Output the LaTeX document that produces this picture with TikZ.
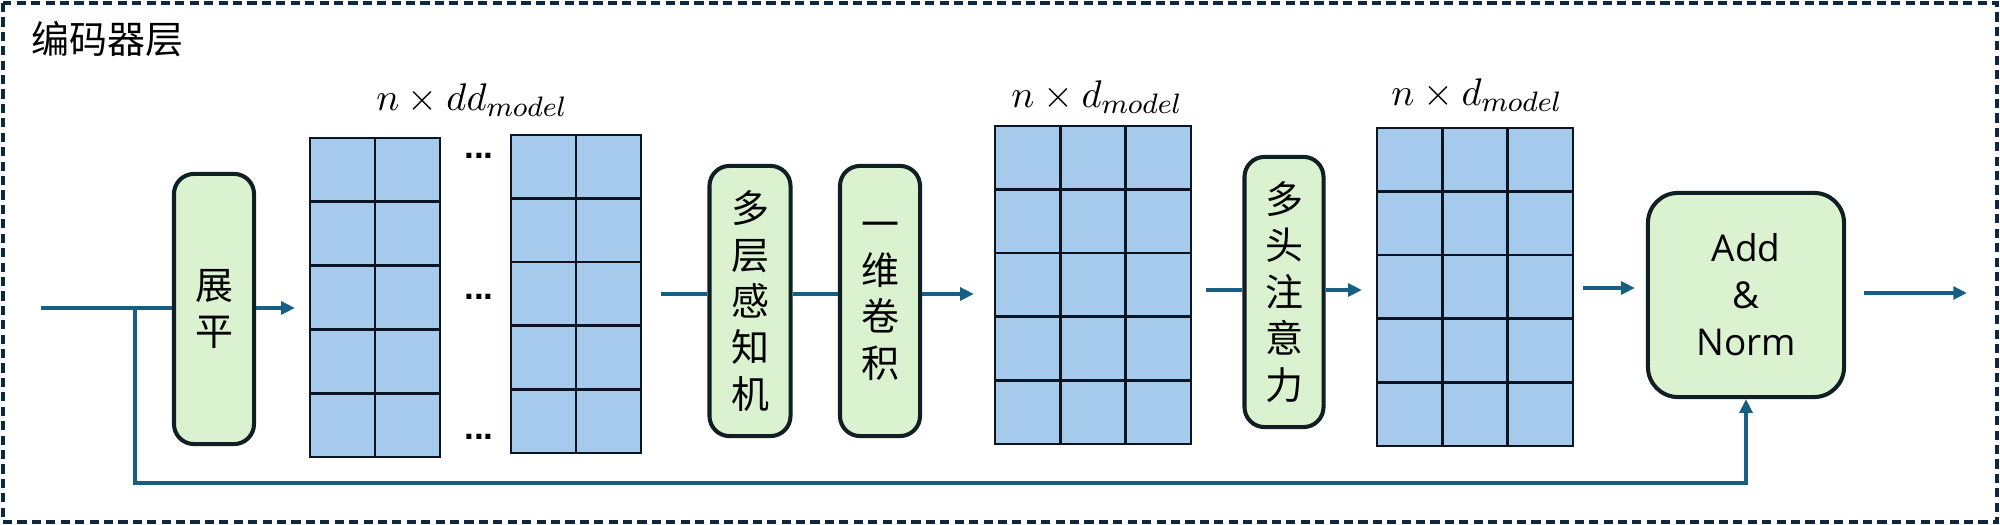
\documentclass[tikz,border=0pt]{standalone}
\usepackage{fontspec}
\newfontfamily\cjk{Noto Sans CJK SC}
\newfontfamily\sansf{Open Sans}
\newfontfamily\dotf{Liberation Sans}
\usetikzlibrary{arrows.meta,calc}
\definecolor{greenfill}{HTML}{DAF2D0}
\definecolor{darkline}{HTML}{0E2841}
\definecolor{boxline}{HTML}{0F1F24}
\definecolor{gridline}{HTML}{0B1420}
\definecolor{cellfill}{HTML}{A6CAEC}
\definecolor{arrowc}{HTML}{156082}
\newcommand\drawcells[3]{%
  \pgfmathtruncatemacro\mycolsm{#2-1}%
  \pgfmathtruncatemacro\myrowsm{#3-1}%
  \foreach \i in {1,...,\mycolsm}{%
    \draw[cellline] ($(#1.north west)!\i/#2!(#1.north east)$) -- ($(#1.south west)!\i/#2!(#1.south east)$);}%
  \foreach \j in {1,...,\myrowsm}{%
    \draw[cellline] ($(#1.north west)!\j/#3!(#1.south west)$) -- ($(#1.north east)!\j/#3!(#1.south east)$);}%
}
\begin{document}
\begin{tikzpicture}[x=0.01cm,y=-0.01cm,
  stepbox/.style={draw=boxline, line width=1.15pt, fill=greenfill, rounded corners=0.2cm,
    minimum width=0.8cm, minimum height=2.7cm, inner sep=0pt, align=center,
    font=\cjk\fontsize{10.8}{13.2}\selectfont},
  gridbox/.style={draw=gridline, line width=0.75pt, fill=cellfill, inner sep=0pt, outer sep=0pt},
  cellline/.style={draw=gridline, line width=0.75pt},
  conn/.style={draw=arrowc, line width=1pt},
  arr/.style={conn, -{Triangle[length=3.9pt,width=3.6pt]}},
  dimlabel/.style={font=\fontsize{10.8}{12}\selectfont, inner sep=0pt},
  dotsnode/.style={font=\dotf\bfseries\fontsize{10}{12}\selectfont, inner sep=0pt},
  frame/.style={draw=darkline, line width=0.95pt, dash pattern=on 2.6pt off 1.5pt}
]
\useasboundingbox (0,0) rectangle (2000,525);
\draw[frame] (3,3) rectangle (1997,522);

\node[anchor=west, inner sep=0pt, font=\cjk\fontsize{10.8}{13}\selectfont] (title) at (31,39) {编码器层};

% processing boxes
\node[stepbox] (flat) at (214,309) {展\\平};
\node[stepbox, minimum width=0.81cm] (mlp) at (750,301) {多\\层\\感\\知\\机};
\node[stepbox] (conv) at (880,301) {一\\维\\卷\\积};
\node[stepbox, minimum width=0.79cm] (mha) at (1284,292) {多\\头\\注\\意\\力};
\node[stepbox, rounded corners=0.3cm, minimum width=1.96cm, minimum height=2.04cm,
  font=\sansf\fontsize{10.5}{13.4}\selectfont] (addnorm) at (1746,295) {Add\\\&\\Norm};

% grids
\node[gridbox, minimum width=1.30cm, minimum height=3.19cm] (g1) at (375,297.5) {};
\drawcells{g1}{2}{5}
\node[gridbox, minimum width=1.30cm, minimum height=3.18cm] (g2) at (576,294) {};
\drawcells{g2}{2}{5}
\node[gridbox, minimum width=1.96cm, minimum height=3.18cm] (g3) at (1093,285) {};
\drawcells{g3}{3}{5}
\node[gridbox, minimum width=1.96cm, minimum height=3.18cm] (g4) at (1475,287) {};
\drawcells{g4}{3}{5}

% dots
\node[dotsnode] (dotsA) at (479,156) {...};
\node[dotsnode] (dotsB) at (479,297) {...};
\node[dotsnode] (dotsC) at (479,437) {...};

% dimension labels
\node[dimlabel] (lab1) at (472,100) {$n\times dd_{model}$};
\node[dimlabel] (lab2) at (1097,97) {$n\times d_{model}$};
\node[dimlabel] (lab3) at (1477,95) {$n\times d_{model}$};

% helper coordinates
\coordinate (in) at (41,308);
\coordinate (br) at (135,308);
\coordinate (out) at (1967,293);
\coordinate (r1) at (0,294);
\coordinate (r2) at (0,290);
\coordinate (r3) at (0,288);
\coordinate (r4) at (0,293);

% connectors
\draw[conn] (in) -- (in -| flat.west);
\draw[arr, shorten >=0.15cm] (flat.east |- in) -- (g1.west |- in);
\draw[conn, shorten <=0.2cm] (g2.east |- r1) -- (mlp.west |- r1);
\draw[conn] (mlp.east |- r1) -- (conv.west |- r1);
\draw[arr, shorten >=0.21cm] (conv.east |- r1) -- (g3.west |- r1);
\draw[conn, shorten <=0.15cm] (g3.east |- r2) -- (mha.west |- r2);
\draw[arr, shorten >=0.15cm] (mha.east |- r2) -- (g4.west |- r2);
\draw[arr, shorten <=0.10cm, shorten >=0.11cm] (g4.east |- r3) -- (addnorm.west |- r3);
\draw[arr, shorten <=0.18cm] (addnorm.east |- r4) -- (out);
\draw[arr] (br) -- ++(0,175) -| (addnorm.south);
\end{tikzpicture}
\end{document}
